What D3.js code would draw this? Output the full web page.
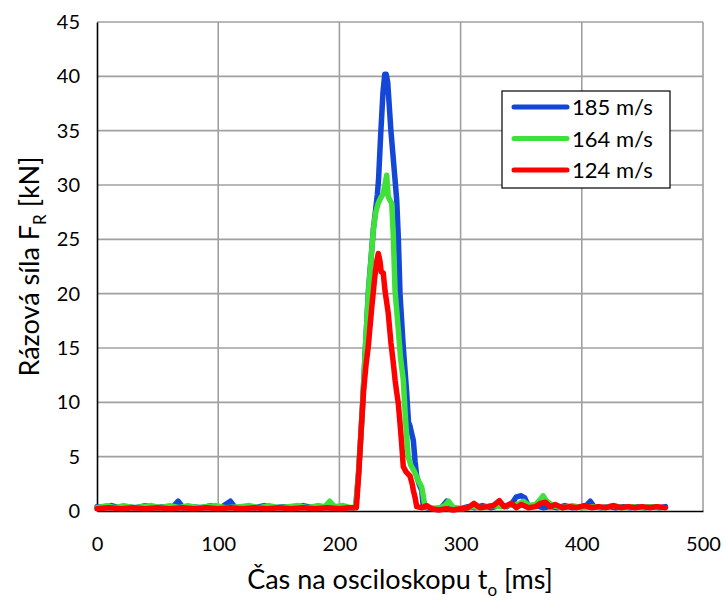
<!DOCTYPE html>
<html>
<head>
<meta charset="utf-8">
<script src="https://cdn.jsdelivr.net/npm/d3@7"></script>
<style>
  html, body { margin: 0; padding: 0; background: #fff; }
  svg { display: block; font-family: Lato, "Open Sans", sans-serif; }
</style>
</head>
<body>
<svg id="chart" width="725" height="600"></svg>
<script>
// Impact force records [time ms, force kN] for three projectile velocities
const force185 = [
  [0,0.4],[6,0.3],[12,0.5],[18,0.3],[25,0.4],[32,0.3],[40,0.5],[48,0.3],[55,0.4],[62,0.3],
  [67,0.9],[71,0.3],[78,0.4],[86,0.3],[94,0.5],[102,0.3],[110,0.9],[114,0.3],[122,0.4],[130,0.3],
  [138,0.5],[146,0.3],[154,0.4],[162,0.3],[170,0.5],[178,0.3],[186,0.4],[194,0.3],[200,0.4],[206,0.3],
  [212,0.3],[213.5,0.4],[215.8,3.5],[218,7.5],[219.3,10.2],[221.5,15.1],[224,20.3],[228,25.9],[231.3,29.1],
  [232.3,30.5],[234,34.5],[236,38.6],[237.5,40.2],[238.6,40.2],[239.9,39.4],[242.5,35],[245.9,30.5],
  [247.3,28.6],[248.6,25.2],[250,20],[252.7,15.1],[255.5,10.9],[257,8.2],[258.3,7.8],[259.5,7.2],
  [261,6.5],[262.5,4.5],[263.8,3.2],[266,2.4],[267.9,1.9],[269.2,0.4],[272,0.3],[278,0.2],[284,0.3],
  [288.5,0.9],[292,0.3],[300,0.2],[306,0.4],[312,0.3],[318,0.5],[325,0.3],[332,0.5],[338,0.4],
  [343,0.8],[346,1.3],[350,1.4],[353,1.2],[356,0.4],[362,0.5],[368,0.3],[374,0.4],[380,0.3],
  [386,0.5],[392,0.3],[398,0.4],[403,0.4],[407,0.9],[410,0.4],[416,0.3],[422,0.4],[428,0.3],
  [434,0.4],[440,0.3],[446,0.4],[452,0.3],[458,0.4],[464,0.3],[469,0.4]
];
const force164 = [
  [0,0.3],[8,0.5],[15,0.3],[22,0.5],[30,0.3],[37,0.4],[45,0.5],[52,0.3],[60,0.5],[68,0.3],
  [75,0.5],[83,0.3],[90,0.4],[98,0.5],[106,0.3],[118,0.4],[126,0.5],[134,0.3],[142,0.5],[150,0.3],
  [158,0.4],[166,0.5],[174,0.3],[182,0.5],[188,0.4],[192,0.9],[196,0.4],[203,0.5],[209,0.3],
  [213.5,0.4],[215.8,3.5],[218,7.5],[219.5,10.5],[221.5,15.1],[224,20.3],[226,23],[228,25.9],
  [230,27.5],[232,28.3],[234,28.8],[236.2,29.2],[237.5,30],[239,30.9],[240.3,28.9],[243.2,28.3],
  [244.5,25.2],[245.9,20.3],[248.6,16.7],[250.5,14],[252.7,12.1],[254.5,8.5],[256.8,5],[259,4.2],
  [262,3.6],[265,2.8],[267.9,2.2],[269.5,1.2],[270.6,0.4],[275,0.3],[281,0.2],[287,0.5],[290,0.9],
  [294,0.3],[302,0.2],[310,0.4],[318,0.3],[326,0.5],[334,0.4],[340,0.5],[347,0.6],[352,0.9],
  [356,0.5],[362,0.6],[366,1.1],[368,1.4],[371,0.9],[376,0.5],[384,0.3],[392,0.5],[400,0.3],
  [410,0.4],[418,0.3],[426,0.5],[434,0.3],[442,0.4],[450,0.3],[458,0.4],[465,0.3]
];
const force124 = [
  [0,0.2],[10,0.3],[20,0.2],[30,0.3],[40,0.2],[50,0.3],[60,0.2],[70,0.3],[80,0.2],[90,0.3],
  [100,0.2],[110,0.3],[120,0.2],[130,0.3],[140,0.2],[150,0.3],[160,0.2],[170,0.3],[180,0.2],
  [190,0.3],[200,0.2],[208,0.3],[214,0.3],[216,3.5],[218,7.5],[220,11.1],[222,13.5],[223.8,15.1],
  [226.5,18.5],[229,21.3],[230.5,22.8],[232.1,23.7],[233.5,23],[234.5,22],[236.2,21.9],[237.6,20.3],
  [240.3,18.2],[242.5,15.5],[244.5,13.6],[246,12],[247.3,10.9],[248.5,10],[250,8.1],[251.5,6],
  [252.7,4.1],[255,3.6],[258.3,3.2],[260,2.5],[261,1.9],[262.5,1.2],[263.8,0.4],[268,0.3],
  [272,0.5],[276,0.2],[282,0.1],[288,0.2],[294,0.1],[300,0.2],[306,0.3],[311,0.7],[316,0.3],
  [322,0.4],[327,0.5],[332,0.95],[336,0.4],[342,0.7],[346,0.3],[350,0.6],[356,0.3],[362,0.4],
  [366,0.7],[370,0.8],[374,0.4],[378,0.6],[384,0.3],[390,0.4],[396,0.3],[402,0.5],[408,0.3],
  [414,0.4],[420,0.3],[426,0.5],[432,0.3],[438,0.4],[444,0.3],[450,0.4],[456,0.3],[462,0.4],[469,0.3]
];

const seriesNames = ["185 m/s", "164 m/s", "124 m/s"];
const seriesColors = ["#1446d8", "#3fe03a", "#ff0000"];
const xTicks = [0, 100, 200, 300, 400, 500];
const yTicks = [0, 5, 10, 15, 20, 25, 30, 35, 40, 45];

const svg = d3.select("#chart");
const x = d3.scaleLinear().domain([0, 500]).range([97, 703]);
const y = d3.scaleLinear().domain([0, 45]).range([511, 22]);

// gridlines
const grid = svg.append("g");
grid.selectAll("line.h").data(yTicks.filter(d => d > 0)).join("line")
  .attr("x1", x(0)).attr("x2", x(500))
  .attr("y1", d => y(d)).attr("y2", d => y(d))
  .attr("stroke", "#a0a0a0").attr("stroke-width", 1.6);
grid.selectAll("line.v").data(xTicks.filter(d => d > 0)).join("line")
  .attr("x1", d => x(d)).attr("x2", d => x(d))
  .attr("y1", y(0)).attr("y2", y(45))
  .attr("stroke", "#a0a0a0").attr("stroke-width", 1.6);

// axes
const xAxis = svg.append("g").attr("transform", `translate(0,${y(0)})`)
  .call(d3.axisBottom(x).tickValues(xTicks).tickSize(0).tickPadding(26));
const yAxis = svg.append("g").attr("transform", `translate(${x(0)},0)`)
  .call(d3.axisLeft(y).tickValues(yTicks).tickSize(0).tickPadding(17));
[xAxis, yAxis].forEach(g => {
  g.select(".domain").attr("stroke", "#000").attr("stroke-width", 1.6);
  g.selectAll("text").attr("font-family", "Lato, sans-serif").attr("font-size", 20).attr("fill", "#000");
});

// data lines
const line = d3.line().x(d => x(d[0])).y(d => y(d[1]));
const allSeries = [force185, force164, force124];
svg.append("g").selectAll("path").data(allSeries).join("path")
  .attr("d", line)
  .attr("fill", "none")
  .attr("stroke", (d, i) => seriesColors[i])
  .attr("stroke-width", 5.5)
  .attr("stroke-linejoin", "round")
  .attr("stroke-linecap", "round");

// axis titles
const xTitle = svg.append("text")
  .attr("x", 400).attr("y", 589)
  .attr("text-anchor", "middle")
  .attr("font-size", 27).attr("fill", "#000");
xTitle.append("tspan").text("Čas na osciloskopu t");
xTitle.append("tspan").attr("font-size", 17).attr("dy", 7).text("o");
xTitle.append("tspan").attr("dy", -7).text(" [ms]");

const yTitle = svg.append("text")
  .attr("transform", `translate(39,${(y(0) + y(45)) / 2}) rotate(-90)`)
  .attr("text-anchor", "middle")
  .attr("font-size", 27).attr("fill", "#000");
yTitle.append("tspan").text("Rázová síla F");
yTitle.append("tspan").attr("font-size", 17).attr("dy", 7).text("R");
yTitle.append("tspan").attr("dy", -7).text(" [kN]");

// legend
const legend = svg.append("g").attr("transform", "translate(502,91)");
legend.append("rect").attr("width", 168).attr("height", 97)
  .attr("fill", "#fff").attr("stroke", "#000").attr("stroke-width", 1.2);
const items = legend.selectAll("g.item").data(seriesNames).join("g")
  .attr("transform", (d, i) => `translate(0,${16 + i * 31.5})`);
items.append("line").attr("x1", 12).attr("x2", 65)
  .attr("stroke", (d, i) => seriesColors[i]).attr("stroke-width", 5)
  .attr("stroke-linecap", "round");
items.append("text").attr("x", 70).attr("y", 8)
  .attr("font-size", 22).attr("fill", "#000").text(d => d);
</script>
</body>
</html>
